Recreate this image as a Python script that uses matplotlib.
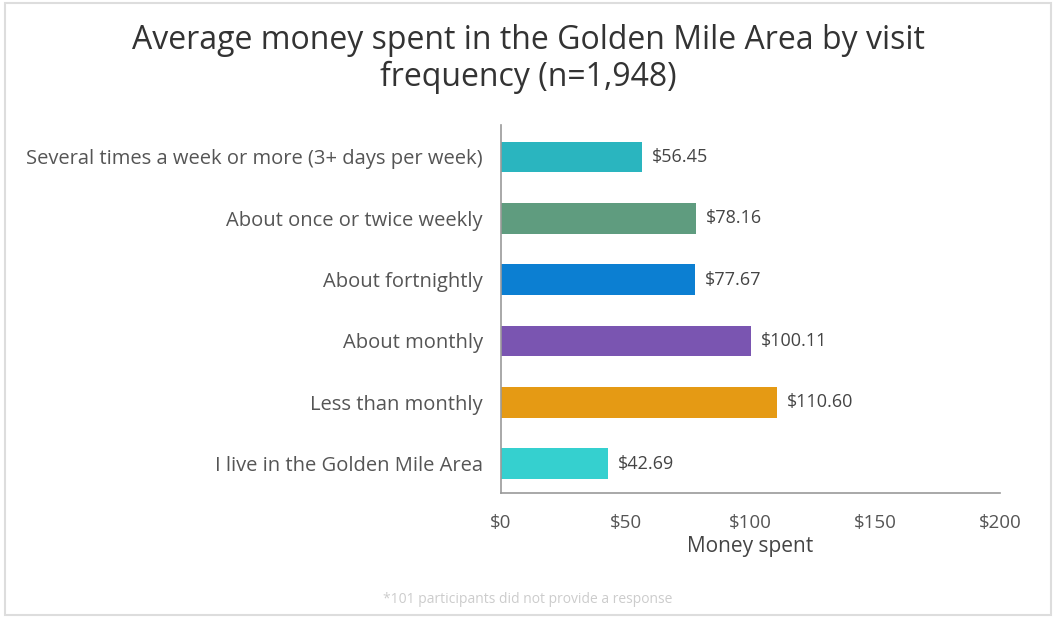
import matplotlib
matplotlib.use("Agg")
import matplotlib.pyplot as plt
from matplotlib.patches import Rectangle

categories = [
    "Several times a week or more (3+ days per week)",
    "About once or twice weekly",
    "About fortnightly",
    "About monthly",
    "Less than monthly",
    "I live in the Golden Mile Area",
]
values = [56.45, 78.16, 77.67, 100.11, 110.60, 42.69]
colors = ["#2ab5bf", "#5f9c7f", "#0c7fd2", "#7a55b1", "#e59a14", "#35d0cf"]
xticks = [0, 50, 100, 150, 200]

plt.rcParams["font.family"] = ["Open Sans", "DejaVu Sans"]

fig = plt.figure(figsize=(10.56, 6.18), dpi=100)
ax = fig.add_axes([0.4744, 0.2023, 0.4727, 0.5954])

ypos = list(range(len(categories)))
ax.barh(ypos, values, height=0.5, color=colors)
for y, v in zip(ypos, values):
    ax.text(v + 4, y, f"${v:.2f}", va="center", ha="left",
            fontsize=13, color="#444444")

ax.set_ylim(5.48, -0.52)
ax.set_xlim(0, 200)
ax.set_yticks(ypos)
ax.set_yticklabels(categories, fontsize=14.5, color="#555555")
ax.set_xticks(xticks)
ax.set_xticklabels([f"${t}" for t in xticks], fontsize=13.5, color="#555555")
ax.tick_params(length=0)
ax.tick_params(axis="x", pad=15)
ax.tick_params(axis="y", pad=13)
ax.set_xlabel("Money spent", fontsize=15, color="#444444", labelpad=3)
for side in ("top", "right"):
    ax.spines[side].set_visible(False)
for side in ("left", "bottom"):
    ax.spines[side].set_color("#999999")
    ax.spines[side].set_linewidth(1.2)

fig.text(0.5, 0.905,
         "Average money spent in the Golden Mile Area by visit\nfrequency (n=1,948)",
         ha="center", va="center", fontsize=23, color="#333333",
         linespacing=1.15)
fig.text(0.5, 0.03, "*101 participants did not provide a response",
         ha="center", va="center", fontsize=10, color="#cccccc")

# light frame around the chart
fig.patches.append(Rectangle((0.005, 0.005), 0.99, 0.99, transform=fig.transFigure,
                             fill=False, edgecolor="#dddddd", linewidth=1.5))

fig.savefig("out.png", dpi=100, facecolor="white")
